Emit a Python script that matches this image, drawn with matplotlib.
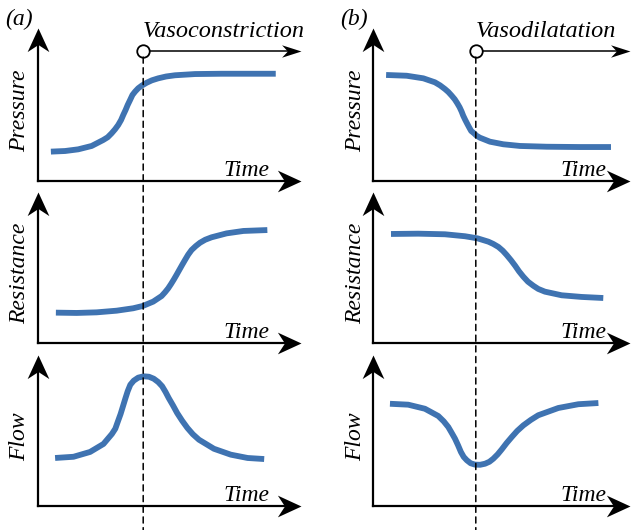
import matplotlib.pyplot as plt
from matplotlib.patches import ConnectionPatch
from matplotlib.path import Path

# curve samples, time and value on a 0-10 scale per panel
pres_a_t = [0.49, 1.03, 1.53, 2.04, 2.48, 2.65, 2.80, 2.93, 3.05, 3.16, 3.24, 3.33, 3.41, 3.50,
            3.59, 3.69, 3.81, 3.95, 4.13, 4.33, 4.57, 4.87, 5.21, 5.97, 6.98, 8.00, 9.04]
pres_a_v = [1.92, 1.96, 2.07, 2.29, 2.68, 2.86, 3.12, 3.38, 3.66, 3.99, 4.31, 4.64, 4.97, 5.29,
            5.62, 5.84, 6.06, 6.24, 6.42, 6.58, 6.71, 6.83, 6.91, 6.99, 7.01, 7.01, 7.01]
res_a_t = [0.68, 1.47, 2.23, 2.99, 3.62, 3.98, 4.38, 4.70, 4.83, 4.95, 5.06, 5.17, 5.27, 5.37,
           5.48, 5.59, 5.71, 5.84, 6.00, 6.16, 6.36, 6.60, 7.17, 7.81, 8.72]
res_a_v = [2.01, 1.99, 2.03, 2.14, 2.30, 2.45, 2.74, 3.11, 3.36, 3.62, 3.91, 4.22, 4.52, 4.83,
           5.17, 5.50, 5.85, 6.16, 6.42, 6.64, 6.84, 7.00, 7.26, 7.42, 7.48]
flow_a_t = [0.65, 1.35, 1.98, 2.49, 2.81, 2.94, 3.04, 3.14, 3.23, 3.32, 3.41, 3.51, 3.64, 3.81,
            4.02, 4.22, 4.40, 4.57, 4.72, 4.85, 4.97, 5.13, 5.29, 5.48, 5.68, 5.89, 6.12, 6.69,
            7.33, 7.97, 8.60]
flow_a_v = [3.18, 3.26, 3.58, 4.11, 4.77, 5.12, 5.61, 6.09, 6.60, 7.11, 7.60, 8.03, 8.30, 8.50,
            8.59, 8.56, 8.43, 8.21, 7.93, 7.55, 7.15, 6.67, 6.16, 5.65, 5.17, 4.75, 4.39, 3.79,
            3.40, 3.18, 3.11]

pres_b_t = [0.51, 1.31, 1.96, 2.41, 2.61, 2.80, 2.93, 3.06, 3.18, 3.28, 3.37, 3.45, 3.51, 3.59,
            3.67, 3.75, 3.82, 3.93, 4.03, 4.16, 4.55, 5.07, 5.72, 6.76, 8.05, 9.26]
pres_b_v = [6.93, 6.88, 6.71, 6.45, 6.25, 6.01, 5.82, 5.58, 5.34, 5.08, 4.82, 4.53, 4.27, 3.99,
            3.73, 3.48, 3.27, 3.12, 2.96, 2.83, 2.57, 2.40, 2.29, 2.24, 2.22, 2.22]
res_b_t = [0.70, 1.76, 2.80, 3.58, 4.07, 4.49, 4.68, 4.88, 5.05, 5.20, 5.37, 5.53, 5.68, 5.85,
           6.03, 6.24, 6.43, 6.69, 7.34, 8.12, 8.96]
res_b_v = [7.22, 7.24, 7.20, 7.07, 6.93, 6.71, 6.56, 6.36, 6.11, 5.83, 5.48, 5.12, 4.75, 4.39,
           4.06, 3.79, 3.58, 3.40, 3.16, 3.05, 2.98]
flow_b_t = [0.66, 1.37, 2.02, 2.54, 2.75, 2.93, 3.06, 3.19, 3.31, 3.42, 3.53, 3.65, 3.80, 3.97,
            4.17, 4.36, 4.53, 4.68, 4.85, 5.01, 5.20, 5.40, 5.61, 5.85, 6.14, 6.43, 7.21, 7.99, 8.77]
flow_b_v = [6.77, 6.71, 6.44, 5.96, 5.61, 5.23, 4.85, 4.46, 4.02, 3.58, 3.25, 3.03, 2.83, 2.74,
            2.73, 2.80, 2.93, 3.13, 3.42, 3.75, 4.17, 4.57, 4.97, 5.34, 5.70, 6.01, 6.49, 6.74, 6.82]

row_labels = ['Pressure', 'Resistance', 'Flow']
panel_tags = ['(a)', '(b)']
events = ['Vasoconstriction', 'Vasodilatation']
event_time = 4.0

curves = [
    [(pres_a_t, pres_a_v), (res_a_t, res_a_v), (flow_a_t, flow_a_v)],
    [(pres_b_t, pres_b_v), (res_b_t, res_b_v), (flow_b_t, flow_b_v)],
]

W, H = 631, 530
BLUE = '#3f73b1'
FONT = dict(family='Liberation Serif', style='italic', size=17)


def stealth(direction, half_width):
    # arrow head with a notched back, tip at the marker origin
    pts = [(0, 0), (-1, half_width), (-0.7, 0), (-1, -half_width), (0, 0)]
    if direction == 'up':
        pts = [(-y, x) for x, y in pts]
    codes = [Path.MOVETO, Path.LINETO, Path.LINETO, Path.LINETO, Path.CLOSEPOLY]
    return Path(pts, codes)


head_right = stealth('right', 0.46)
head_up = stealth('up', 0.46)
head_small = stealth('right', 0.32)

fig = plt.figure(figsize=(W / 100, H / 100), dpi=100)

cols = [(38, 301), (373, 630)]
rows = [(28, 181), (192, 343), (355, 506)]
time_x = [8.8, 9.1]

for c, (left, right) in enumerate(cols):
    col_axes = []
    for r, (top, bottom) in enumerate(rows):
        ax = fig.add_axes([left / W, 1 - bottom / H, (right - left) / W, (bottom - top) / H])
        ax.set_xlim(0, 10)
        ax.set_ylim(0, 10)
        ax.axis('off')
        ax.plot([0, 9.4], [0, 0], color='black', lw=1.6, clip_on=False)
        ax.plot([0, 0], [0, 9.2], color='black', lw=1.6, clip_on=False)
        ax.plot([10], [0], marker=head_right, ms=34, color='black', mew=0, clip_on=False)
        ax.plot([0], [10], marker=head_up, ms=34, color='black', mew=0, clip_on=False)
        t, v = curves[c][r]
        ax.plot(t, v, color=BLUE, lw=4.2, solid_capstyle='butt', solid_joinstyle='round', zorder=3)
        ax.text(time_x[c], 0.35, 'Time', ha='right', va='baseline', **FONT)
        ax.text(-0.68, 4.6, row_labels[r], rotation=90, ha='center', va='center', **FONT)
        col_axes.append(ax)

    top_ax, bot_ax = col_axes[0], col_axes[-1]
    # event marker with arrow
    top_ax.plot([event_time, 9.6], [8.5, 8.5], color='black', lw=1.1, clip_on=False)
    top_ax.plot([10], [8.5], marker=head_small, ms=28, color='black', mew=0, clip_on=False)
    top_ax.plot([event_time], [8.5], marker='o', ms=9, mfc='white', mec='black', mew=1.3,
                clip_on=False, zorder=5)
    top_ax.text(event_time, 9.41, events[c], ha='left', va='baseline',
                family='Liberation Serif', style='italic', size=17.5)
    con = ConnectionPatch(xyA=(event_time, 8.1), coordsA=top_ax.transData,
                          xyB=(event_time, -1.7), coordsB=bot_ax.transData,
                          color='black', lw=1.1, linestyle=(0, (4, 3)))
    fig.add_artist(con)
    fig.text((left - 33) / W, 1 - 19 / H, panel_tags[c], ha='left', va='center', **FONT)

fig.savefig('out.png', dpi=100)
